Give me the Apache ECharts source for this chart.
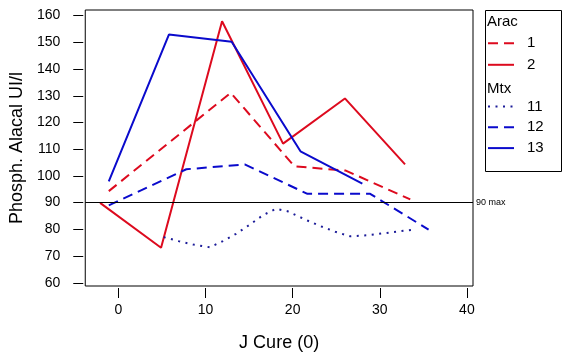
<!DOCTYPE html>
<html><head><meta charset="utf-8">
<script src="https://cdn.jsdelivr.net/npm/echarts@6/dist/echarts.min.js"></script>
<style>html,body{margin:0;padding:0;background:#fff}#c{width:573px;height:357px}</style>
</head><body><div id="c"></div>
<script>
// ---- data ----
const xTicks = [0, 10, 20, 30, 40];
const yTicks = [60, 70, 80, 90, 100, 110, 120, 130, 140, 150, 160];
const refValue = 90;
const refLabel = '90 max';
const groupA = 'Arac';
const groupM = 'Mtx';
const namesA = ['1', '2'];
const namesM = ['11', '12', '13'];
const a1X = [-1.1, 12.9, 20.2, 26.1, 33.5];
const a1Y = [94.3, 131.1, 103.6, 102.0, 91.2];
const a2X = [-2.1, 4.9, 11.9, 18.9, 26.0, 32.9];
const a2Y = [89.9, 73.1, 157.9, 112.1, 129.0, 104.3];
const m11X = [5.2, 6.9, 8.6, 10.5, 12.0, 13.5, 15.1, 16.6, 18.1, 19.4, 21.7, 23.2, 24.9, 26.6, 28.6, 30.6, 32.3, 33.9];
const m11Y = [77.1, 75.6, 74.3, 73.3, 75.6, 78.3, 81.8, 85.3, 87.7, 86.8, 83.3, 81.2, 79.1, 77.4, 77.8, 78.6, 79.3, 79.9];
const m12X = [-1.1, 7.8, 14.5, 21.7, 28.9, 35.6];
const m12Y = [89.0, 102.5, 104.3, 93.3, 93.3, 79.9];
const m13X = [-1.1, 5.8, 13.0, 20.9, 28.0];
const m13Y = [98.0, 152.9, 150.2, 109.2, 97.1];

// ---- chart ----
const FONT = "'Liberation Sans', Arial, sans-serif";
const RED = '#dd0a1e', BLUE = '#0a0acc', NAVY = '#1c1c99';
const zip = (xs, ys) => xs.map((x, i) => [x, ys[i]]);
function mk(name, xs, ys, color, type) {
  return {
    name, type: 'line', data: zip(xs, ys), symbol: 'none', smooth: false,
    lineStyle: { color, width: 2, type, cap: 'butt' }, itemStyle: { color },
    animation: false
  };
}
const series = [
  mk(namesA[0], a1X, a1Y, RED, [10, 6]),
  mk(namesA[1], a2X, a2Y, RED, 'solid'),
  mk(namesM[0], m11X, m11Y, NAVY, [2, 5.5]),
  mk(namesM[1], m12X, m12Y, BLUE, [10, 6]),
  mk(namesM[2], m13X, m13Y, BLUE, 'solid')
];
series[0].markLine = {
  silent: true, symbol: ['none', 'none'], animation: false,
  lineStyle: { color: '#000', width: 1, type: 'solid' },
  label: { show: true, position: 'end', formatter: refLabel, fontSize: 9, color: '#000', fontFamily: FONT, distance: 3 },
  data: [{ yAxis: refValue }]
};
const legendCommon = {
  orient: 'vertical', left: 487, padding: 0, itemWidth: 26, itemHeight: 14,
  itemStyle: { opacity: 0 },
  textStyle: { fontSize: 15, fontFamily: FONT, color: '#000', lineHeight: 14, padding: [0, 0, 0, 8] },
  selectedMode: false
};
const chart = echarts.init(document.getElementById('c'), null, { renderer: 'canvas' });
chart.setOption({
  backgroundColor: '#fff',
  animation: false,
  grid: { left: 82, top: 10, width: 391, height: 276, show: true, borderColor: '#000', borderWidth: 1, backgroundColor: 'transparent' },
  xAxis: {
    type: 'value', min: -3.8, max: 40.7, offset: 2,
    name: 'J Cure (0)', nameLocation: 'middle', nameGap: 46,
    nameTextStyle: { fontSize: 18, fontFamily: FONT, color: '#000' },
    axisLine: { show: false, onZero: false },
    axisTick: { show: true, length: 10, inside: false, customValues: xTicks, lineStyle: { color: '#000' } },
    axisLabel: { customValues: xTicks, fontSize: 14, fontFamily: FONT, color: '#000', margin: 15 },
    splitLine: { show: false }
  },
  yAxis: {
    type: 'value', min: 58.8, max: 162.1, offset: 2,
    name: 'Phosph. Alacal UI/l', nameLocation: 'middle', nameGap: 55,
    nameTextStyle: { fontSize: 18, fontFamily: FONT, color: '#000' },
    axisLine: { show: false, onZero: false },
    axisTick: { show: true, length: 10, inside: false, customValues: yTicks, lineStyle: { color: '#000' } },
    axisLabel: { customValues: yTicks, fontSize: 14, fontFamily: FONT, color: '#000', margin: 23 },
    splitLine: { show: false }
  },
  legend: [
    Object.assign({}, legendCommon, { data: namesA, top: 35.7, itemGap: 6.6 }),
    Object.assign({}, legendCommon, { data: namesM, top: 99, itemGap: 5.8 })
  ],
  graphic: [
    { type: 'rect', shape: { x: 485.5, y: 10.5, width: 76, height: 161 }, style: { fill: 'none', stroke: '#000', lineWidth: 1 }, silent: true },
    { type: 'text', x: 487, y: 21.7, style: { text: groupA, font: '15px ' + FONT, fill: '#000', verticalAlign: 'middle' }, silent: true },
    { type: 'text', x: 487, y: 89.3, style: { text: groupM, font: '15px ' + FONT, fill: '#000', verticalAlign: 'middle' }, silent: true }
  ],
  series
});
</script></body></html>
